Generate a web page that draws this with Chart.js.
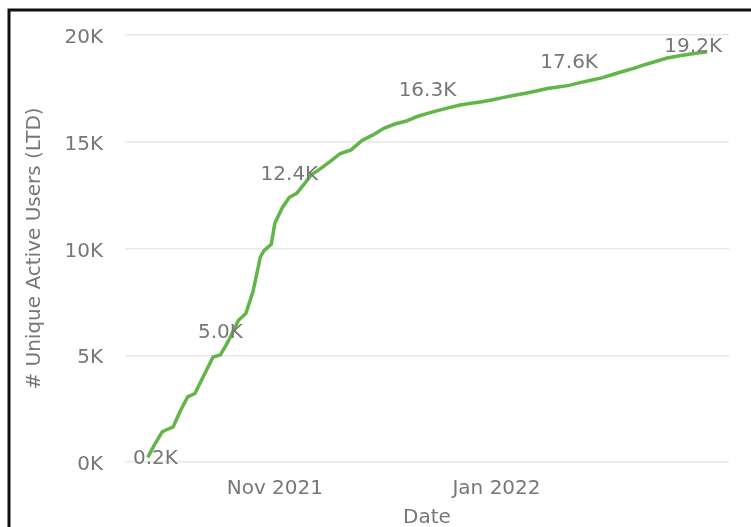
<!DOCTYPE html>
<html>
<head>
<meta charset="utf-8">
<script src="https://cdn.jsdelivr.net/npm/chart.js@4/dist/chart.umd.min.js"></script>
<style>
  html, body { margin: 0; padding: 0; background: #ffffff; }
  #wrap { position: relative; width: 751px; height: 527px; }
  canvas { position: absolute; left: 0; top: 0; }
</style>
</head>
<body>
<div id="wrap"><canvas id="c" width="751" height="527"></canvas></div>
<script>
// ---- data (values in thousands of users) ----
const dates = [
  '2021-09-27','2021-09-29','2021-10-01','2021-10-02','2021-10-04','2021-10-06','2021-10-08','2021-10-10',
  '2021-10-12','2021-10-15','2021-10-17','2021-10-19','2021-10-22','2021-10-24','2021-10-26','2021-10-28',
  '2021-10-29','2021-10-31','2021-11-01','2021-11-03','2021-11-05','2021-11-07','2021-11-09','2021-11-11',
  '2021-11-13','2021-11-16','2021-11-19','2021-11-22','2021-11-25','2021-11-28','2021-12-01','2021-12-04',
  '2021-12-07','2021-12-10','2021-12-13','2021-12-16','2021-12-19','2021-12-22','2021-12-25','2021-12-28',
  '2021-12-31','2022-01-03','2022-01-06','2022-01-09','2022-01-12','2022-01-15','2022-01-18','2022-01-21',
  '2022-01-24','2022-01-27','2022-01-30','2022-02-02','2022-02-05','2022-02-08','2022-02-11','2022-02-14',
  '2022-02-17','2022-02-20','2022-02-23','2022-02-26','2022-02-28'
];
const users = [
  0.22, 0.85, 1.41, 1.50, 1.64, 2.40, 3.05, 3.21,
  3.90, 4.92, 5.02, 5.60, 6.64, 6.95, 8.00, 9.60,
  9.90, 10.20, 11.19, 11.90, 12.40, 12.58, 13.00, 13.45,
  13.67, 14.05, 14.45, 14.62, 15.06, 15.32, 15.63, 15.83,
  15.96, 16.17, 16.33, 16.47, 16.60, 16.72, 16.80, 16.87,
  16.97, 17.08, 17.18, 17.27, 17.38, 17.49, 17.56, 17.64,
  17.77, 17.88, 17.99, 18.15, 18.30, 18.45, 18.62, 18.77,
  18.92, 19.02, 19.10, 19.17, 19.22
];
const labelDates = ['2021-09-27','2021-10-17','2021-11-05','2021-12-13','2022-01-21','2022-02-28'];
const tickDates = ['2021-11-01','2022-01-01'];
const tickLabels = ['Nov 2021','Jan 2022'];
const yTicks = [0, 5, 10, 15, 20];
const xTitle = 'Date';
const yTitle = '# Unique Active Users (LTD)';

// ---- chart ----
const FONT = 'DejaVu Sans';
const TEXT = '#777777';
const points = dates.map((d, i) => ({ x: Date.parse(d), y: users[i] }));
const labelIdx = labelDates.map(d => dates.indexOf(d));
const DAY = 86400000;

const frame = {
  id: 'frame',
  afterDraw(chart) {
    const ctx = chart.ctx;
    ctx.save();
    ctx.strokeStyle = '#111111';
    ctx.lineWidth = 3;
    ctx.beginPath();
    ctx.moveTo(9, 527);
    ctx.lineTo(9, 10);
    ctx.lineTo(751, 10);
    ctx.stroke();
    ctx.restore();
  }
};

const dataLabels = {
  id: 'dataLabels',
  afterDatasetsDraw(chart) {
    const ctx = chart.ctx;
    const area = chart.chartArea;
    const meta = chart.getDatasetMeta(0);
    ctx.save();
    ctx.font = '20px "' + FONT + '"';
    ctx.fillStyle = TEXT;
    ctx.textAlign = 'center';
    ctx.textBaseline = 'alphabetic';
    labelIdx.forEach((i, k) => {
      const el = meta.data[i];
      const txt = users[i].toFixed(1) + 'K';
      const w = ctx.measureText(txt).width;
      let cx = el.x;
      let cy = (k === 0) ? el.y + 25 : el.y - 24.5;
      cx = Math.max(area.left + 8 + w / 2, Math.min(area.right - 7 - w / 2, cx));
      cy = Math.max(area.top + 9.5, Math.min(area.bottom - 5, cy));
      ctx.fillText(txt, cx, cy + 7.3);
    });
    ctx.restore();
  }
};

new Chart(document.getElementById('c'), {
  type: 'line',
  data: {
    datasets: [{
      data: points,
      borderColor: '#62b548',
      borderWidth: 3.5,
      pointRadius: 0,
      tension: 0,
      fill: false
    }]
  },
  options: {
    responsive: false,
    animation: false,
    devicePixelRatio: 1,
    layout: { padding: { left: 0, top: 35, right: 22, bottom: 0 } },
    plugins: { legend: { display: false }, tooltip: { enabled: false } },
    scales: {
      x: {
        type: 'linear',
        min: Date.parse('2021-09-27') - 6.25 * DAY,
        max: Date.parse('2021-09-27') + 160 * DAY,
        afterBuildTicks: s => { s.ticks = tickDates.map(d => ({ value: Date.parse(d) })); },
        afterFit: s => { s.height = 65; },
        grid: { display: false, drawTicks: false },
        border: { display: false },
        ticks: {
          autoSkip: false,
          maxRotation: 0,
          padding: 15,
          color: TEXT,
          font: { family: FONT, size: 20 },
          callback: (v) => { const j = tickDates.findIndex(d => Date.parse(d) === v); return j >= 0 ? tickLabels[j] : ''; }
        },
        title: {
          display: true, text: xTitle, color: TEXT,
          font: { family: FONT, size: 20 },
          padding: { top: 0, bottom: -3 }
        }
      },
      y: {
        min: 0, max: 20,
        afterBuildTicks: s => { s.ticks = yTicks.map(v => ({ value: v })); },
        afterFit: s => { s.width = 125; },
        grid: { color: '#e8e8e8', lineWidth: 1.5, drawTicks: false },
        border: { display: false },
        ticks: {
          padding: 22,
          labelOffset: 3,
          color: TEXT,
          font: { family: FONT, size: 20 },
          callback: v => v + 'K'
        },
        title: {
          display: true, text: yTitle, color: TEXT,
          font: { family: FONT, size: 20 },
          padding: { top: 23, bottom: 0 }
        }
      }
    }
  },
  plugins: [frame, dataLabels]
});
</script>
</body>
</html>
